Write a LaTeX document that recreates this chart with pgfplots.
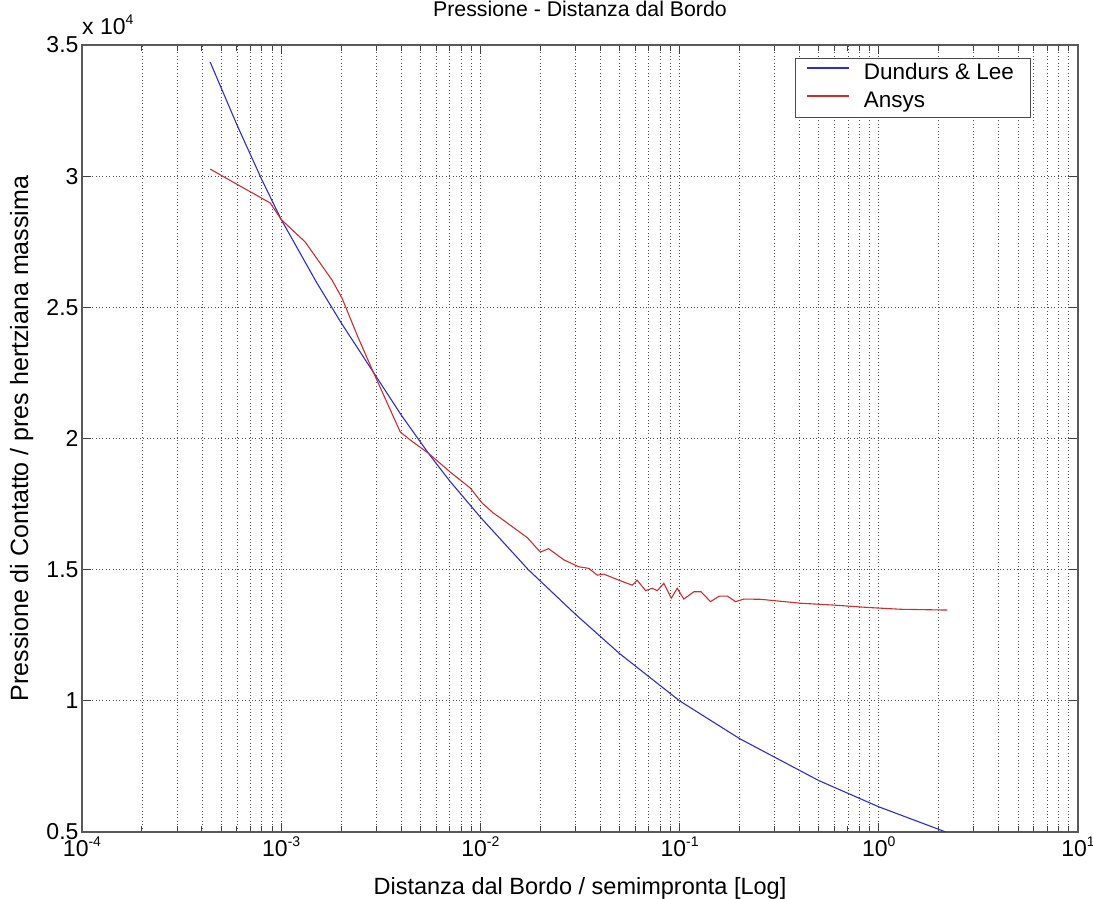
\documentclass[border=0pt]{standalone}
\usepackage{fontspec}
\setmainfont{Liberation Sans}
\usepackage{pgfplots}
\pgfplotsset{compat=1.18}
\definecolor{mblue}{RGB}{45,45,205}
\definecolor{mred}{RGB}{205,45,45}
\newcommand{\F}{\fontsize{23bp}{26bp}\selectfont}
\newcommand{\e}[1]{\raisebox{10bp}{\fontsize{14bp}{14bp}\selectfont #1}}
\begin{document}
\begin{tikzpicture}
\begin{axis}[
  scale only axis,
  width=996bp, height=787bp,
  xmode=log, xmin=1e-4, xmax=10,
  ymin=5000, ymax=35000,
  xtick={1e-4,1e-3,1e-2,1e-1,1,10},
  xticklabels={10\e{-4},10\e{-3},10\e{-2},10\e{-1},10\e{0},10\e{1}},
  ytick={5000,10000,15000,20000,25000,30000,35000},
  yticklabels={0.5,1,1.5,2,2.5,3,3.5},
  scaled y ticks=false,
  tick label style={font=\F},
  xticklabel style={yshift=-1bp},
  title style={font=\fontsize{21.3bp}{25bp}\selectfont, at={(axis description cs:0.5,1.028)}, anchor=base},
  title={Pressione - Distanza dal Bordo},
  xlabel={Distanza dal Bordo / semimpronta [Log]},
  ylabel={Pressione di Contatto / pres hertziana massima},
  xlabel style={font=\fontsize{23.5bp}{26bp}\selectfont, at={(axis description cs:0.5,-0.080)}, anchor=base},
  ylabel style={font=\fontsize{25bp}{28bp}\selectfont, at={(axis description cs:-0.0542,0.5)}, anchor=base, rotate=0},
  grid=both,
  major grid style={black!70, line width=0.8bp, dash pattern=on 1bp off 2.4bp},
  minor grid style={black!70, line width=0.8bp, dash pattern=on 1bp off 2.4bp},
  axis line style={black!65, line width=1.2bp},
  tick style={black!75, line width=1bp},
  major tick length=9bp, minor tick length=6bp,
  tick align=inside,
  legend style={font=\fontsize{22.5bp}{26bp}\selectfont, at={(0.716,0.9835)}, anchor=north west,
    draw=black!70, line width=1bp, inner xsep=11bp, inner ysep=5bp, row sep=7bp,
    nodes={inner sep=0bp, text height=16bp, text depth=5bp},
    /tikz/every odd column/.append style={column sep=14bp}},
  legend cell align=left,
  legend image code/.code={\draw[#1, line width=1.2bp] (0bp,6bp) -- (42bp,6bp);},
]
\addplot[mblue, line width=1.1bp] coordinates {
(4.4e-4,34350) (6e-4,31950) (8e-4,29860) (1e-3,28350) (1.5e-3,25970)
(2e-3,24410) (2.9e-3,22530) (4e-3,20900) (5.48e-3,19440) (7e-3,18390)
(1e-2,17000) (1.74e-2,15000) (3e-2,13300) (5e-2,11800) (1e-1,10000)
(2e-1,8560) (5e-1,6960) (1,5960) (2.17,5000)
};
\addlegendentry{Dundurs \& Lee\rule{6bp}{0pt}}
\addplot[mred, line width=1.1bp] coordinates {
(4.4e-4,30270) (6e-4,29690) (8.8e-4,28980) (1e-3,28350) (1.32e-3,27490)
(1.8e-3,26040) (2.02e-3,25350) (2.44e-3,23830) (2.9e-3,22530) (3.96e-3,20250)
(4.45e-3,19940) (5.48e-3,19440) (7.06e-3,18720) (8.9e-3,18110) (1.02e-2,17540)
(1.16e-2,17160) (1.26e-2,16970) (1.72e-2,16220) (2.0e-2,15670) (2.2e-2,15800)
(2.63e-2,15370) (3.12e-2,15110) (3.5e-2,15050) (3.86e-2,14790) (4.17e-2,14830)
(4.95e-2,14600) (5.78e-2,14410) (6.12e-2,14600) (6.75e-2,14200) (7.29e-2,14290)
(7.73e-2,14200) (8.34e-2,14480) (9.08e-2,13910) (9.73e-2,14290) (0.105,13880)
(0.118,14160) (0.128,14160) (0.143,13780) (0.158,13990) (0.174,13990)
(0.191,13780) (0.21,13880) (0.255,13870) (0.406,13720) (0.594,13650)
(0.877,13560) (1.29,13490) (2.21,13460)
};
\addlegendentry{Ansys}
\coordinate (SW) at (rel axis cs:0,0);
\coordinate (NE) at (rel axis cs:1,1);
\end{axis}
\node[font=\F, anchor=base west, inner sep=0pt] at ([yshift=10bp]SW |- NE) {x 10\e{4}};
\pgfresetboundingbox
\path[use as bounding box] ([xshift=-82bp,yshift=-67bp]SW) rectangle ([xshift=15bp,yshift=45bp]NE);
\end{tikzpicture}
\end{document}
